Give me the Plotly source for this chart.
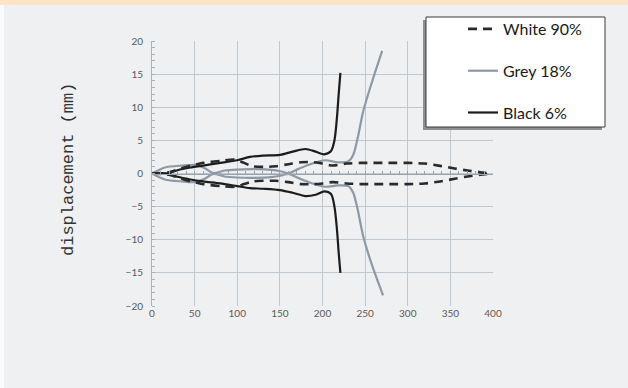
import plotly.graph_objects as go

# ---------------- data ----------------
SERIES_NAMES = ["White 90%", "Grey 18%", "Black 6%"]

x_white_up = [0, 20, 40, 60, 80, 97, 108, 118, 130, 145, 160, 175, 190, 200, 212, 228, 245, 265, 285, 300, 320, 338, 355, 370, 385, 398]
y_white_up = [0, 0.2, 1.0, 1.6, 1.9, 2.1, 1.6, 1.1, 1.0, 1.1, 1.4, 1.7, 1.7, 1.5, 1.2, 1.5, 1.6, 1.6, 1.6, 1.6, 1.5, 1.15, 0.75, 0.45, 0.2, 0]
x_white_lo = [0, 20, 40, 60, 80, 97, 108, 118, 130, 145, 160, 175, 190, 200, 212, 228, 245, 265, 285, 300, 320, 338, 355, 370, 385, 398]
y_white_lo = [0, -0.2, -1.0, -1.6, -1.9, -2.0, -1.6, -1.2, -1.1, -1.1, -1.3, -1.6, -1.6, -1.5, -1.3, -1.5, -1.6, -1.6, -1.6, -1.6, -1.5, -1.2, -0.8, -0.45, -0.2, 0]

x_grey_up = [0, 15, 35, 50, 62, 72, 85, 100, 120, 140, 152, 160, 172, 188, 203, 218, 230, 236, 241, 248, 258, 270]
y_grey_up = [0, 0.9, 1.2, 1.3, 0.8, 0.05, 0.45, 0.6, 0.65, 0.55, 0.3, 0.05, 0.7, 1.5, 2.0, 1.7, 1.8, 2.8, 5.2, 9.5, 13.8, 18.5]
x_grey_lo = [0, 15, 35, 50, 62, 72, 85, 100, 120, 140, 152, 160, 172, 188, 203, 218, 230, 236, 241, 248, 258, 271]
y_grey_lo = [0, -0.9, -1.2, -1.3, -0.8, -0.05, -0.45, -0.6, -0.65, -0.55, -0.3, -0.05, -0.7, -1.5, -2.0, -1.8, -1.9, -2.9, -5.3, -9.6, -13.8, -18.4]

x_black_up = [0, 18, 30, 45, 60, 80, 100, 115, 130, 150, 165, 180, 192, 202, 210, 214, 217, 219, 221]
y_black_up = [0, 0, 0.5, 0.9, 1.2, 1.6, 2.0, 2.5, 2.7, 2.8, 3.3, 3.7, 3.3, 2.9, 3.4, 5.0, 8.5, 12.0, 15.2]
x_black_lo = [0, 18, 30, 45, 60, 80, 100, 115, 130, 150, 165, 180, 192, 202, 210, 214, 217, 219, 221]
y_black_lo = [0, 0, -0.5, -0.9, -1.2, -1.5, -1.9, -2.2, -2.3, -2.5, -2.9, -3.4, -3.2, -2.7, -3.1, -5.0, -8.5, -12.0, -15.0]

X_TICKS = [0, 50, 100, 150, 200, 250, 300, 350, 400]
Y_TICKS = [-20, -15, -10, -5, 0, 5, 10, 15, 20]
Y_TITLE = "displacement (mm)"

# ---------------- layout geometry (pixels) ----------------
W, H = 628, 388
L, R, T, B = 152, 628 - 493, 41, 388 - 306
PW, PH = W - L - R, H - T - B


def px(xp):
    return (xp - L) / PW


def py(yp):
    return (H - B - yp) / PH


def join(xa, ya, xb, yb):
    return list(xa) + [None] + list(xb), list(ya) + [None] + list(yb)


fig = go.Figure()

wx, wy = join(x_white_up, y_white_up, x_white_lo, y_white_lo)
gx, gy = join(x_grey_up, y_grey_up, x_grey_lo, y_grey_lo)
bx, by = join(x_black_up, y_black_up, x_black_lo, y_black_lo)

fig.add_trace(go.Scatter(x=wx, y=wy, name=SERIES_NAMES[0], mode="lines", xaxis="x2",
                         legendgroup="a",
                         line=dict(color="#2a2a2a", width=2.6, dash="9px,6px", shape="spline", smoothing=0.8)))
fig.add_trace(go.Scatter(x=gx, y=gy, name=SERIES_NAMES[1], mode="lines", legendgroup="b",
                         line=dict(color="#8d99a4", width=2.2, shape="spline", smoothing=0.8)))
fig.add_trace(go.Scatter(x=bx, y=by, name=SERIES_NAMES[2], mode="lines", legendgroup="c",
                         line=dict(color="#1c1c1c", width=2.2, shape="spline", smoothing=0.8)))

grid_c = "#BFC7CF"
tick_font = dict(family="Lato, Liberation Sans, sans-serif", size=10, color="#5a5a5a")

shapes = [
    # top orange band
    dict(type="rect", xref="paper", yref="paper", x0=px(0), x1=px(W), y0=py(5), y1=py(0),
         fillcolor="#FCE3C6", line=dict(width=0), layer="below"),
    # left white strip
    dict(type="rect", xref="paper", yref="paper", x0=px(0), x1=px(4), y0=py(H), y1=py(5),
         fillcolor="#FAFAFB", line=dict(width=0), layer="below"),
    # legend shadow
    dict(type="rect", xref="paper", yref="paper", x0=px(423), x1=px(602), y0=py(130), y1=py(20),
         fillcolor="#8f8f8f", line=dict(width=0), layer="above"),
    # legend box
    dict(type="rect", xref="paper", yref="paper", x0=px(426), x1=px(605), y0=py(127), y1=py(17),
         fillcolor="#FFFFFF", line=dict(color="#3a3a3a", width=1), layer="above"),
]

fig.update_layout(
    width=W, height=H, autosize=False,
    margin=dict(l=L, r=R, t=T, b=B),
    paper_bgcolor="#EFF0F2", plot_bgcolor="#EFF0F2",
    showlegend=True,
    legend=dict(x=px(463), y=py(12), xanchor="left", yanchor="top",
                bgcolor="rgba(0,0,0,0)", borderwidth=0,
                traceorder="grouped", tracegroupgap=18,
                font=dict(family="Lato, Liberation Sans, sans-serif", size=16, color="#1a1a1a")),
    xaxis=dict(range=[0, 400], tickvals=X_TICKS, showgrid=True, gridcolor=grid_c, gridwidth=1,
               zeroline=False, showline=False, ticks="", tickfont=tick_font, fixedrange=True),
    xaxis2=dict(range=[0, 400], overlaying="x", anchor="free", position=0.5, side="bottom",
                showgrid=False, zeroline=False, showline=True, linecolor="#9aa2aa", linewidth=1,
                showticklabels=False, ticks="inside", ticklen=3, tickcolor="#9aa2aa",
                dtick=10, tick0=0),
    yaxis=dict(range=[-20, 20], tickvals=Y_TICKS, showgrid=True, gridcolor=grid_c, gridwidth=1,
               zeroline=False, showline=True, linecolor="#a9b1b9", linewidth=1,
               ticks="", tickfont=tick_font, ticklabelstandoff=6,
               minor=dict(dtick=1, ticks="inside", ticklen=3, tickcolor="#a9b1b9", showgrid=False)),
    shapes=shapes,
    annotations=[dict(text=Y_TITLE, xref="paper", yref="paper", x=px(68), y=py(170),
                      textangle=-90, showarrow=False, xanchor="center", yanchor="middle",
                      font=dict(family="Liberation Mono, DejaVu Sans Mono, monospace", size=17,
                                color="#333333"))],
)

fig.write_html("out.html", post_script="document.body.style.margin='0';",
               config={"displayModeBar": False})
